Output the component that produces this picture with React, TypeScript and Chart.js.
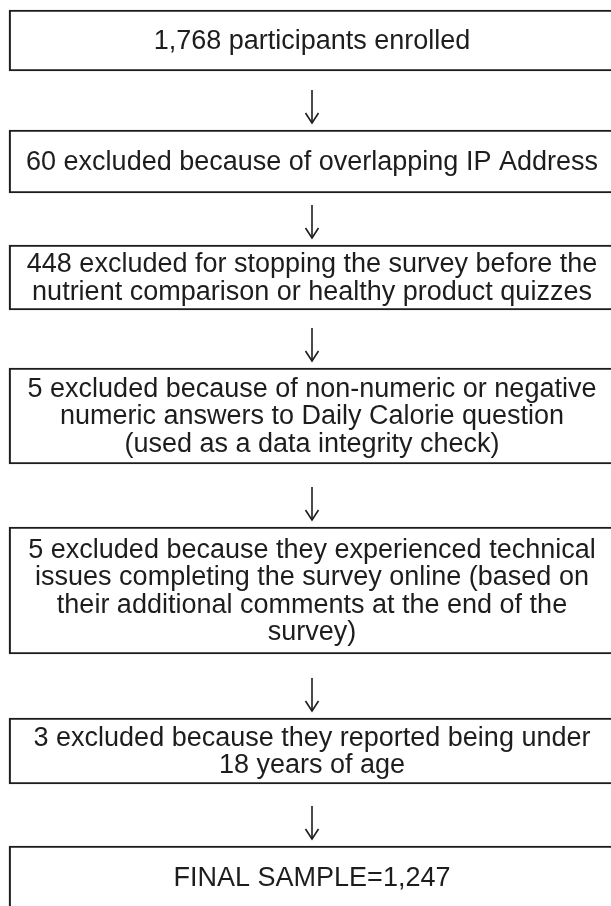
import React, { useEffect, useRef } from "react";
import { Chart, registerables } from "chart.js";

Chart.register(...registerables);

// ---- data: the flow steps (text lines of each box) ----
const stepLines: string[][] = [
  ["1,768 participants enrolled"],
  ["60 excluded because of overlapping IP Address"],
  [
    "448 excluded for stopping the survey before the",
    "nutrient comparison or healthy product quizzes",
  ],
  [
    "5 excluded because of non-numeric or negative",
    "numeric answers to Daily Calorie question",
    "(used as a data integrity check)",
  ],
  [
    "5 excluded because they experienced technical",
    "issues completing the survey online (based on",
    "their additional comments at the end of the",
    "survey)",
  ],
  ["3 excluded because they reported being under", "18 years of age"],
  ["FINAL SAMPLE=1,247"],
];

const stepCategory = ["flow"];

// ---- layout (box vertical ranges in canvas units, top -> bottom) ----
const boxRanges: [number, number][] = [
  [10, 71],
  [130, 193],
  [245, 310],
  [368, 464],
  [527, 654],
  [718, 784],
  [846, 960],
];

const INK = "#1e1c1d";
const FONT = '27px "Liberation Sans", Arial, sans-serif';
const LINE_H = 27.5;
const ARROW_LEN = 33;
const ARROW_GAP = 7;

const flowPlugin = {
  id: "flowText",
  afterDatasetsDraw(chart: any) {
    const ctx = chart.ctx;
    const meta = chart.getDatasetMeta(0);
    const els = meta.data;
    ctx.save();
    ctx.fillStyle = INK;
    ctx.strokeStyle = INK;
    ctx.font = FONT;
    ctx.textAlign = "center";
    ctx.textBaseline = "middle";
    els.forEach((el: any, i: number) => {
      const top = Math.min(el.y, el.base);
      const bottom = Math.max(el.y, el.base);
      const lines = stepLines[i];
      const cy = (top + (i === els.length - 1 ? top + 64 : bottom)) / 2;
      const start = cy - ((lines.length - 1) * LINE_H) / 2;
      lines.forEach((t, k) => ctx.fillText(t, el.x, start + k * LINE_H + 1));
      if (i < els.length - 1) {
        const nxt = els[i + 1];
        const nTop = Math.min(nxt.y, nxt.base);
        const y1 = nTop - ARROW_GAP;
        const y0 = Math.max(bottom + 12, y1 - ARROW_LEN);
        ctx.lineWidth = 1.6;
        ctx.beginPath();
        ctx.moveTo(el.x, y0);
        ctx.lineTo(el.x, y1);
        ctx.stroke();
        ctx.beginPath();
        ctx.moveTo(el.x - 6.5, y1 - 10);
        ctx.lineTo(el.x, y1);
        ctx.lineTo(el.x + 6.5, y1 - 10);
        ctx.stroke();
      }
    });
    ctx.restore();
  },
};

export default function App() {
  const ref = useRef<HTMLCanvasElement | null>(null);
  useEffect(() => {
    document.body.style.margin = "0";
    const chart = new Chart(ref.current as HTMLCanvasElement, {
      type: "bar",
      data: {
        labels: stepCategory,
        datasets: [
          {
            data: boxRanges.map((r) => ({ x: stepCategory[0], y: r })) as any,
            backgroundColor: "#ffffff",
            borderColor: INK,
            borderWidth: 2.2,
            borderSkipped: false,
            barThickness: 606,
            clip: false as any,
            grouped: false,
          } as any,
        ],
      },
      options: {
        animation: false,
        responsive: true,
        maintainAspectRatio: false,
        layout: { padding: { left: 13, right: 0, top: 0, bottom: 0 } },
        plugins: { legend: { display: false }, tooltip: { enabled: false } },
        scales: {
          x: { display: false, offset: true },
          y: { display: false, min: 0, max: 906, reverse: true },
        },
      },
      plugins: [flowPlugin],
    });
    return () => chart.destroy();
  }, []);
  return (
    <div style={{ width: 611, height: 906, position: "relative", background: "#fff" }}>
      <canvas ref={ref} />
    </div>
  );
}
